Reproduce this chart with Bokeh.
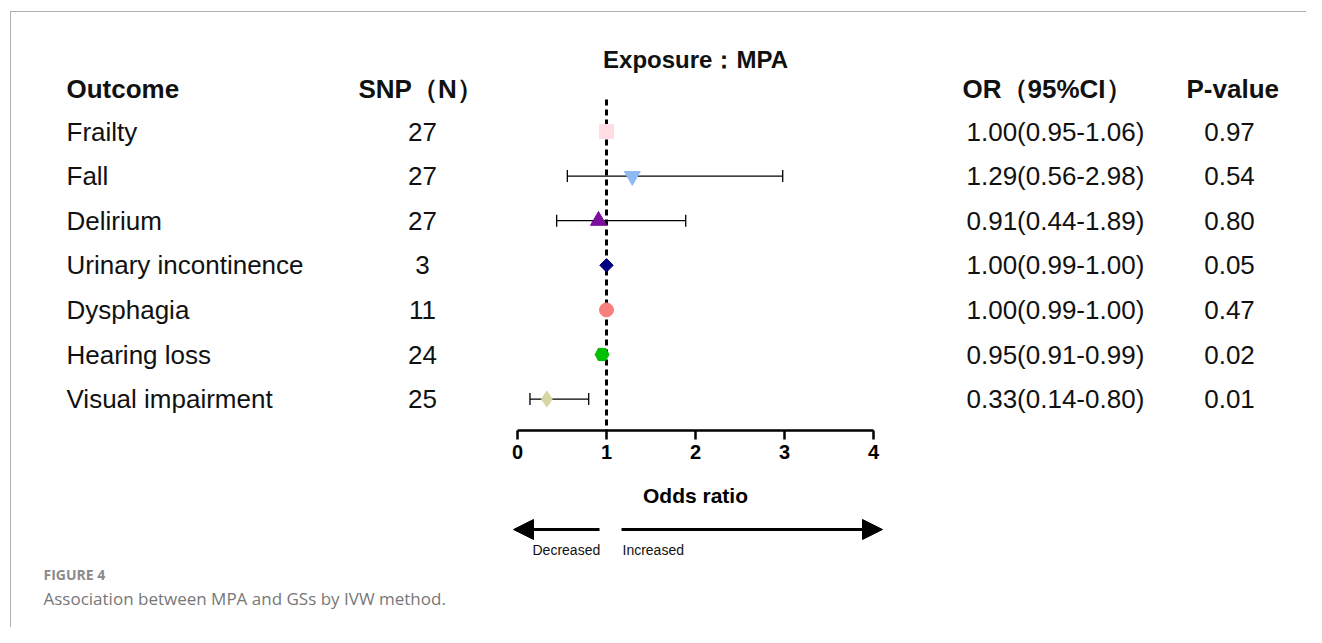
import math
from bokeh.plotting import figure
from bokeh.layouts import column
from bokeh.models import (ColumnDataSource, Range1d, FixedTicker, Arrow,
                          NormalHead, Whisker, TeeHead)
from bokeh.core.properties import value
from bokeh.embed import file_html
from bokeh.resources import INLINE

# ---------------- data ----------------
outcomes = ["Frailty", "Fall", "Delirium", "Urinary incontinence",
            "Dysphagia", "Hearing loss", "Visual impairment"]
snp_n = [27, 27, 27, 3, 11, 24, 25]
or_est = [1.00, 1.29, 0.91, 1.00, 1.00, 0.95, 0.33]
ci_low = [0.95, 0.56, 0.44, 0.99, 0.99, 0.91, 0.14]
ci_high = [1.06, 2.98, 1.89, 1.00, 1.00, 0.99, 0.80]
p_values = ["0.97", "0.54", "0.80", "0.05", "0.47", "0.02", "0.01"]
x_ticks = [0, 1, 2, 3, 4]

# ---------------- styles ----------------
markers = ["square", "inverted_triangle", "triangle", "square", "circle", "hex", "diamond"]
m_sizes = [14, 16, 16, 9.5, 14, 14, 16]
m_angles = [0, 0, 0, math.pi / 4, 0, 0, 0]
colors = ["#FFDDE3", "#8DBAF2", "#7B0E9C", "#000080", "#F7807E", "#00C000", "#D8D6A0"]

FONT = "Liberation Sans"
OX, OY = 11, 12                # content origin (after margin + border)
W = 1306 - OX
AXIS_PX = 430                  # pixel of the OR axis line
AX_PANEL = 36                  # height of the axis panel
BOT_END = 627
X0_PX, UNIT_PX = 517, 89.0     # pixel of OR=0 and pixels per OR unit
ROW0_PX, ROW_PX = 131, 44.6    # pixel of first row and row spacing


def dx(px):
    return (px - X0_PX) / UNIT_PX


def dy(py):
    return (py - ROW0_PX) / ROW_PX


xr = Range1d(dx(OX), dx(OX + W))

p = figure(width=W, height=(AXIS_PX - OY) + AX_PANEL, output_backend="svg",
           toolbar_location=None, x_range=xr,
           y_range=Range1d(dy(AXIS_PX), dy(OY)),
           y_axis_location=None,
           min_border_left=0, min_border_right=0, min_border_top=0,
           min_border_bottom=AX_PANEL)
p.outline_line_color = None
p.grid.visible = False

rows = list(range(len(outcomes)))
src = ColumnDataSource(dict(
    y=rows, outcome=outcomes, snp=[str(n) for n in snp_n], est=or_est,
    lo=ci_low, hi=ci_high,
    ortxt=[f"{e:.2f}({l:.2f}-{h:.2f})" for e, l, h in zip(or_est, ci_low, ci_high)],
    pv=p_values, marker=markers, size=m_sizes, angle=m_angles, color=colors,
))

# reference line at OR = 1
p.segment(x0=1, y0=dy(99), x1=1, y1=dy(AXIS_PX), line_color="black",
          line_width=3, line_dash="6 4")

# confidence intervals
whisk = Whisker(source=src, base="y", lower="lo", upper="hi", dimension="width",
                line_color="black", line_width=1.3, level="underlay",
                lower_head=TeeHead(size=12, line_width=1.3, line_color="black"),
                upper_head=TeeHead(size=12, line_width=1.3, line_color="black"))
p.add_layout(whisk)

# point estimates
p.scatter(x="est", y="y", marker="marker", size="size", angle="angle",
          fill_color="color", line_color="color", source=src)

# table text
row_txt = dict(source=src, text_font=value(FONT), text_font_size="26px",
               text_baseline="middle", text_color="#111111")
p.text(x=dx(66), y="y", text="outcome", **row_txt)
p.text(x=dx(422), y="y", text="snp", text_align="center", **row_txt)
p.text(x=dx(966), y="y", text="ortxt", **row_txt)
p.text(x=dx(1229), y="y", text="pv", text_align="center", **row_txt)

# headers
hdr = dict(text_font=value(FONT), text_font_size="26px", text_font_style="bold",
           text_baseline="middle", text_color="#111111")
p.text(x=[dx(66)], y=[dy(88)], text=["Outcome"], **hdr)
p.text(x=[dx(358)], y=[dy(88)], text=["SNP（N）"], **hdr)
p.text(x=[dx(962)], y=[dy(88)], text=["OR（95%CI）"], **hdr)
p.text(x=[dx(1186)], y=[dy(88)], text=["P-value"], **hdr)
p.text(x=[2], y=[dy(59)], text=["Exposure：MPA"], text_font=value(FONT),
       text_font_size="24px", text_font_style="bold", text_baseline="middle",
       text_align="center", text_color="#111111")

# OR axis
ax = p.xaxis[0]
ax.bounds = (0, 4)
ax.ticker = FixedTicker(ticks=x_ticks)
ax.axis_line_width = 2.5
ax.axis_line_color = "black"
ax.major_tick_line_width = 2.5
ax.major_tick_line_color = "black"
ax.major_tick_out = 9
ax.major_tick_in = 0
ax.minor_tick_line_color = None
ax.major_label_text_font = FONT
ax.major_label_text_font_size = "20px"
ax.major_label_text_font_style = "bold"
ax.major_label_text_color = "black"
ax.major_label_standoff = 5

# ---------------- lower panel ----------------
top2 = AXIS_PX + AX_PANEL
p2 = figure(width=W, height=BOT_END - top2, output_backend="svg",
            toolbar_location=None, x_range=xr, y_range=Range1d(BOT_END, top2),
            x_axis_location=None, y_axis_location=None,
            min_border_left=0, min_border_right=0, min_border_top=0,
            min_border_bottom=0)
p2.outline_line_color = None
p2.grid.visible = False

p2.text(x=[2], y=[495], text=["Odds ratio"], text_font=value(FONT),
        text_font_size="21px", text_font_style="bold", text_align="center",
        text_baseline="middle", text_color="black")
p2.add_layout(Arrow(x_start=dx(599), y_start=529, x_end=dx(513), y_end=529,
                    line_width=3, line_color="black",
                    end=NormalHead(size=20, fill_color="black", line_color="black")))
p2.add_layout(Arrow(x_start=dx(621), y_start=529, x_end=dx(882), y_end=529,
                    line_width=3, line_color="black",
                    end=NormalHead(size=20, fill_color="black", line_color="black")))
p2.text(x=[dx(532), dx(622)], y=[549, 549], text=["Decreased", "Increased"],
        text_font=value(FONT), text_font_size="14px", text_baseline="middle",
        text_color="#111111")
p2.text(x=[dx(43)], y=[574], text=["FIGURE 4"], text_font=value("Open Sans"),
        text_font_size="14px", text_font_style="bold", text_baseline="middle",
        text_color="#8a8a8a")
p2.text(x=[dx(43)], y=[598], text=["Association between MPA and GSs by IVW method."],
        text_font=value("Open Sans"), text_font_size="17px",
        text_baseline="middle", text_color="#777777")

layout = column(p, p2, spacing=0, margin=(OY - 1, 0, 0, OX - 1),
                styles={"border-top": "1px solid #b0b0b0",
                        "border-left": "1px solid #b0b0b0"})

open("out.html", "w").write(file_html(layout, INLINE))
